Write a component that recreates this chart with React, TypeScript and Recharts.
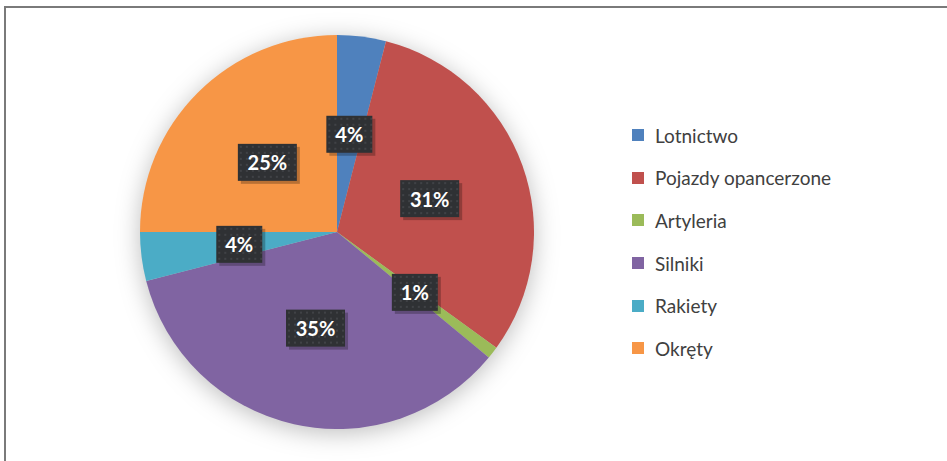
import React from "react";
import { PieChart, Pie, Cell, Legend } from "recharts";

const categories = ["Lotnictwo", "Pojazdy opancerzone", "Artyleria", "Silniki", "Rakiety", "Okręty"];
const values = [4, 31, 1, 35, 4, 25];
const colors = ["#4F81BD", "#C0504D", "#9BBB59", "#8064A2", "#4BACC6", "#F79646"];

const data = categories.map((name, i) => ({ name, value: values[i] }));

const RAD = Math.PI / 180;

const renderLabel = (props: any) => {
  const { cx, cy, midAngle, outerRadius, percent, index } = props;
  const r = outerRadius * 0.5;
  const x = cx + r * Math.cos(-midAngle * RAD);
  const y = cy + r * Math.sin(-midAngle * RAD);
  const text = `${Math.round(percent * 100)}%`;
  const w = text.length > 2 ? 59 : 46;
  const h = 37;
  const pid = `dots-${index}`;
  return (
    <g>
      <defs>
        <pattern id={pid} x={x - w / 2} y={y - h / 2} width={6} height={6} patternUnits="userSpaceOnUse">
          <rect width={6} height={6} fill="#2f3134" />
          <circle cx={3} cy={3} r={0.8} fill="#55585c" />
        </pattern>
      </defs>
      <rect x={x - w / 2 + 3} y={y - h / 2 + 3} width={w} height={h} fill="rgba(0,0,0,0.25)" />
      <rect x={x - w / 2} y={y - h / 2} width={w} height={h} fill={`url(#${pid})`} />
      <text
        x={x}
        y={y}
        textAnchor="middle"
        dominantBaseline="central"
        fill="#ffffff"
        fontFamily="Lato, 'Noto Sans', sans-serif"
        fontWeight={700}
        fontSize={20}
      >
        {text}
      </text>
    </g>
  );
};

const LegendContent = () => (
  <div style={{ fontFamily: "Lato, 'Noto Sans', sans-serif", fontSize: 19, color: "#404040" }}>
    {categories.map((c, i) => (
      <div key={c} style={{ display: "flex", alignItems: "center", height: 42.6 }}>
        <div style={{ width: 12, height: 12, background: colors[i], marginRight: 11 }} />
        <span>{c}</span>
      </div>
    ))}
  </div>
);

export default function App() {
  return (
    <div style={{ position: "absolute", left: 0, top: 0, width: 947, height: 461, overflow: "hidden", background: "#fff" }}>
      <style>{`.recharts-pie { filter: drop-shadow(0px 4px 12px rgba(0,0,0,0.26)); }`}</style>
      <div
        style={{
          position: "absolute",
          left: 4,
          top: 6,
          width: 1100,
          height: 1100,
          border: "2px solid #7a7a7a",
          boxSizing: "border-box",
        }}
      />
      <div style={{ position: "absolute", left: 0, top: 0 }}>
        <PieChart width={947} height={461} margin={{ top: 0, right: 0, bottom: 0, left: 0 }}>
          <Pie
            data={data}
            dataKey="value"
            nameKey="name"
            cx={337}
            cy={232}
            outerRadius={197}
            startAngle={90}
            endAngle={-270}
            stroke="none"
            label={renderLabel}
            labelLine={false}
            isAnimationActive={false}
          >
            {data.map((d, i) => (
              <Cell key={d.name} fill={colors[i]} />
            ))}
          </Pie>
          <Legend
            layout="vertical"
            content={<LegendContent />}
            wrapperStyle={{ position: "absolute", left: 632, top: 114, width: 280 }}
          />
        </PieChart>
      </div>
    </div>
  );
}
